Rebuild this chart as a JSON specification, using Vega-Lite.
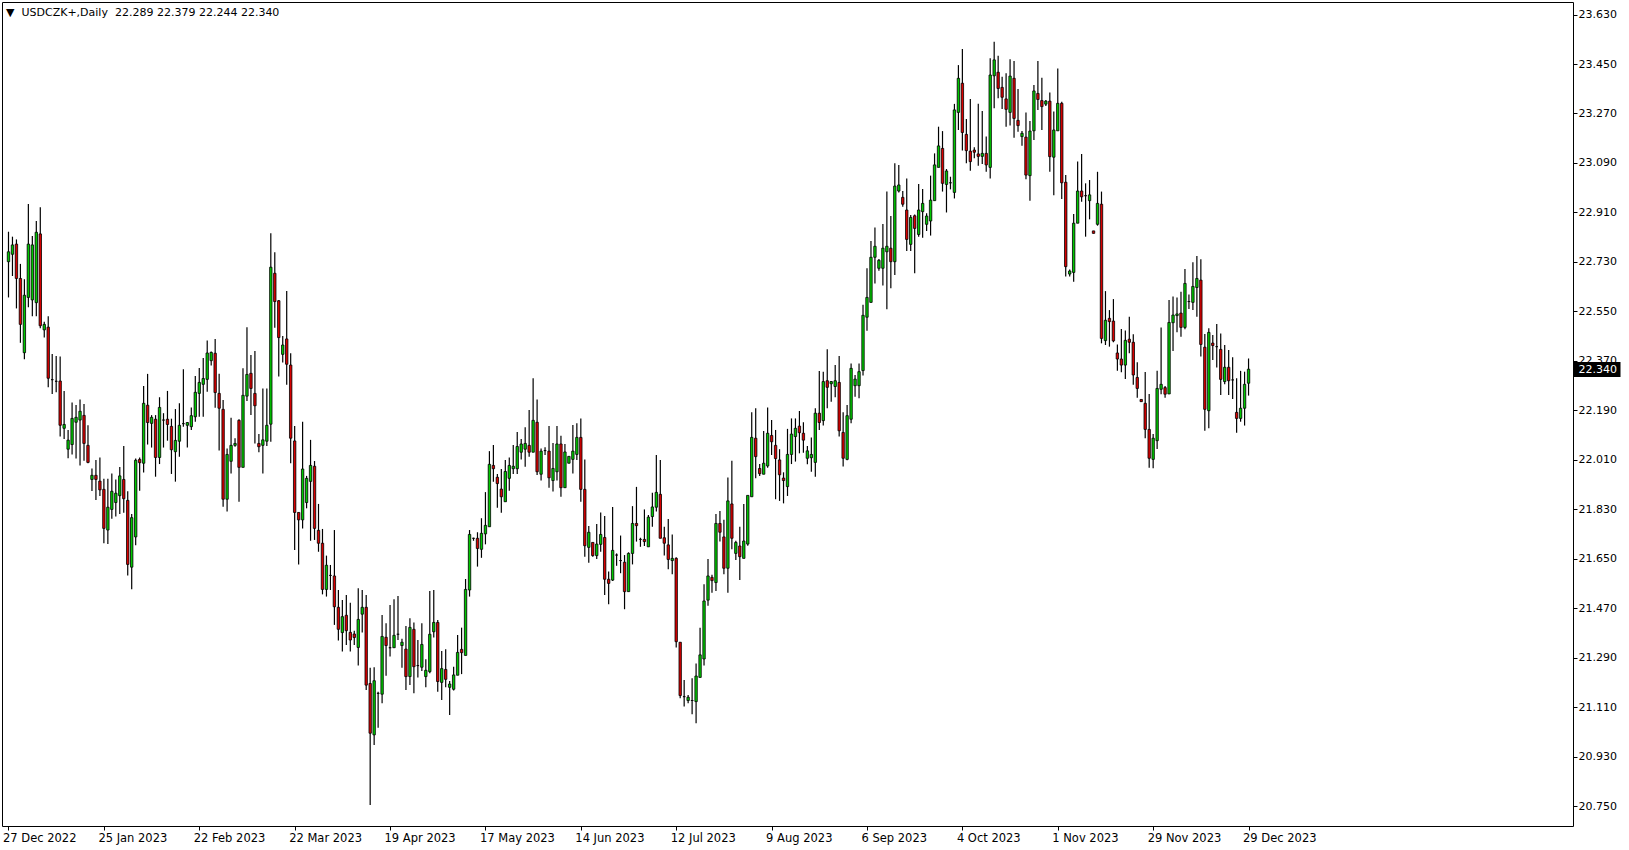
{
"$schema": "https://vega.github.io/schema/vega-lite/v6.json",
"width": 1571,
"height": 824,
"autosize": {"type": "none"},
"padding": {"left": 2, "top": 2, "right": 56, "bottom": 24},
"background": "#ffffff",
"config": {"view": {"stroke": "#000000", "strokeWidth": 1}, "font": "DejaVu Sans", "axis": {"labelFont": "DejaVu Sans", "labelFontSize": 11, "labelColor": "#000000", "tickColor": "#000000", "grid": false, "domain": false}},
"title": {"text": "▼\u00a0\u00a0USDCZK+,Daily\u00a0\u00a022.289 22.379 22.244 22.340", "anchor": "start", "frame": "group", "orient": "top", "offset": -10, "baseline": "middle", "dx": 4, "dy": 12, "fontSize": 11, "fontWeight": "normal", "font": "DejaVu Sans", "color": "#000000"},
"datasets": {
"last": [{"p": 22.34}],
"ohlc": [
{"i":0,"o":22.731,"h":22.840,"l":22.601,"c":22.767},
{"i":1,"o":22.758,"h":22.822,"l":22.679,"c":22.792},
{"i":2,"o":22.795,"h":22.812,"l":22.561,"c":22.670},
{"i":3,"o":22.670,"h":22.723,"l":22.436,"c":22.503},
{"i":4,"o":22.400,"h":22.667,"l":22.376,"c":22.609},
{"i":5,"o":22.601,"h":22.941,"l":22.565,"c":22.795},
{"i":6,"o":22.592,"h":22.824,"l":22.533,"c":22.792},
{"i":7,"o":22.582,"h":22.879,"l":22.533,"c":22.838},
{"i":8,"o":22.832,"h":22.929,"l":22.489,"c":22.498},
{"i":9,"o":22.483,"h":22.513,"l":22.455,"c":22.503},
{"i":10,"o":22.493,"h":22.533,"l":22.274,"c":22.307},
{"i":11,"o":22.302,"h":22.395,"l":22.250,"c":22.302},
{"i":12,"o":22.296,"h":22.388,"l":22.256,"c":22.296},
{"i":13,"o":22.297,"h":22.386,"l":22.095,"c":22.136},
{"i":14,"o":22.125,"h":22.261,"l":22.086,"c":22.139},
{"i":15,"o":22.049,"h":22.119,"l":22.016,"c":22.082},
{"i":16,"o":22.066,"h":22.219,"l":22.030,"c":22.161},
{"i":17,"o":22.147,"h":22.210,"l":22.015,"c":22.165},
{"i":18,"o":22.155,"h":22.230,"l":21.990,"c":22.187},
{"i":19,"o":22.172,"h":22.213,"l":22.007,"c":22.070},
{"i":20,"o":22.063,"h":22.136,"l":21.998,"c":22.001},
{"i":21,"o":21.939,"h":21.979,"l":21.897,"c":21.954},
{"i":22,"o":21.954,"h":22.010,"l":21.864,"c":21.939},
{"i":23,"o":21.933,"h":22.019,"l":21.879,"c":21.901},
{"i":24,"o":21.903,"h":21.942,"l":21.707,"c":21.761},
{"i":25,"o":21.755,"h":21.942,"l":21.704,"c":21.838},
{"i":26,"o":21.830,"h":21.961,"l":21.796,"c":21.896},
{"i":27,"o":21.855,"h":21.939,"l":21.804,"c":21.889},
{"i":28,"o":21.880,"h":21.984,"l":21.813,"c":21.952},
{"i":29,"o":21.939,"h":22.061,"l":21.818,"c":21.869},
{"i":30,"o":21.863,"h":21.896,"l":21.590,"c":21.630},
{"i":31,"o":21.620,"h":21.813,"l":21.540,"c":21.800},
{"i":32,"o":21.730,"h":22.015,"l":21.700,"c":22.009},
{"i":33,"o":22.012,"h":22.019,"l":21.898,"c":22.000},
{"i":34,"o":21.998,"h":22.279,"l":21.964,"c":22.216},
{"i":35,"o":22.209,"h":22.323,"l":22.066,"c":22.146},
{"i":36,"o":22.143,"h":22.173,"l":22.055,"c":22.165},
{"i":37,"o":22.158,"h":22.173,"l":21.949,"c":22.019},
{"i":38,"o":22.019,"h":22.238,"l":21.995,"c":22.201},
{"i":39,"o":22.155,"h":22.180,"l":22.055,"c":22.155},
{"i":40,"o":22.158,"h":22.261,"l":22.080,"c":22.139},
{"i":41,"o":22.132,"h":22.160,"l":21.959,"c":22.047},
{"i":42,"o":22.040,"h":22.195,"l":21.931,"c":22.081},
{"i":43,"o":22.078,"h":22.216,"l":22.022,"c":22.136},
{"i":44,"o":22.142,"h":22.340,"l":22.131,"c":22.142},
{"i":45,"o":22.136,"h":22.148,"l":22.055,"c":22.146},
{"i":46,"o":22.131,"h":22.201,"l":22.119,"c":22.171},
{"i":47,"o":22.167,"h":22.315,"l":22.149,"c":22.256},
{"i":48,"o":22.252,"h":22.344,"l":22.167,"c":22.292},
{"i":49,"o":22.285,"h":22.381,"l":22.167,"c":22.306},
{"i":50,"o":22.303,"h":22.444,"l":22.258,"c":22.399},
{"i":51,"o":22.371,"h":22.404,"l":22.353,"c":22.401},
{"i":52,"o":22.398,"h":22.450,"l":22.200,"c":22.255},
{"i":53,"o":22.252,"h":22.323,"l":22.044,"c":22.198},
{"i":54,"o":22.194,"h":22.228,"l":21.840,"c":21.867},
{"i":55,"o":21.867,"h":22.052,"l":21.822,"c":22.030},
{"i":56,"o":22.005,"h":22.163,"l":21.961,"c":22.063},
{"i":57,"o":22.063,"h":22.089,"l":22.058,"c":22.070},
{"i":58,"o":22.154,"h":22.158,"l":21.858,"c":21.983},
{"i":59,"o":21.983,"h":22.343,"l":21.983,"c":22.245},
{"i":60,"o":22.242,"h":22.493,"l":22.224,"c":22.321},
{"i":61,"o":22.325,"h":22.392,"l":22.173,"c":22.270},
{"i":62,"o":22.252,"h":22.406,"l":22.070,"c":22.207},
{"i":63,"o":22.070,"h":22.104,"l":22.038,"c":22.058},
{"i":64,"o":22.063,"h":22.270,"l":21.961,"c":22.083},
{"i":65,"o":22.078,"h":22.270,"l":22.061,"c":22.136},
{"i":66,"o":22.140,"h":22.834,"l":22.076,"c":22.711},
{"i":67,"o":22.689,"h":22.765,"l":22.491,"c":22.586},
{"i":68,"o":22.589,"h":22.592,"l":22.313,"c":22.455},
{"i":69,"o":22.394,"h":22.461,"l":22.364,"c":22.428},
{"i":70,"o":22.450,"h":22.624,"l":22.283,"c":22.358},
{"i":71,"o":22.355,"h":22.398,"l":21.998,"c":22.089},
{"i":72,"o":22.079,"h":22.133,"l":21.682,"c":21.819},
{"i":73,"o":21.819,"h":21.819,"l":21.630,"c":21.792},
{"i":74,"o":21.792,"h":22.149,"l":21.761,"c":21.977},
{"i":75,"o":21.855,"h":21.952,"l":21.834,"c":21.943},
{"i":76,"o":21.932,"h":22.083,"l":21.716,"c":21.990},
{"i":77,"o":21.987,"h":22.006,"l":21.719,"c":21.761},
{"i":78,"o":21.754,"h":21.850,"l":21.676,"c":21.707},
{"i":79,"o":21.707,"h":21.759,"l":21.521,"c":21.539},
{"i":80,"o":21.539,"h":21.662,"l":21.513,"c":21.627},
{"i":81,"o":21.590,"h":21.628,"l":21.537,"c":21.590},
{"i":82,"o":21.588,"h":21.755,"l":21.410,"c":21.476},
{"i":83,"o":21.474,"h":21.537,"l":21.353,"c":21.394},
{"i":84,"o":21.382,"h":21.501,"l":21.313,"c":21.440},
{"i":85,"o":21.445,"h":21.519,"l":21.337,"c":21.389},
{"i":86,"o":21.383,"h":21.491,"l":21.313,"c":21.355},
{"i":87,"o":21.377,"h":21.389,"l":21.337,"c":21.364},
{"i":88,"o":21.328,"h":21.543,"l":21.262,"c":21.430},
{"i":89,"o":21.449,"h":21.537,"l":21.382,"c":21.474},
{"i":90,"o":21.474,"h":21.519,"l":21.173,"c":21.191},
{"i":91,"o":21.197,"h":21.254,"l":20.755,"c":21.016},
{"i":92,"o":21.010,"h":21.256,"l":20.973,"c":21.207},
{"i":93,"o":21.161,"h":21.167,"l":21.036,"c":21.161},
{"i":94,"o":21.158,"h":21.446,"l":21.125,"c":21.368},
{"i":95,"o":21.365,"h":21.416,"l":21.225,"c":21.335},
{"i":96,"o":21.327,"h":21.482,"l":21.295,"c":21.327},
{"i":97,"o":21.327,"h":21.503,"l":21.327,"c":21.372},
{"i":98,"o":21.376,"h":21.515,"l":21.355,"c":21.376},
{"i":99,"o":21.335,"h":21.360,"l":21.254,"c":21.347},
{"i":100,"o":21.322,"h":21.406,"l":21.173,"c":21.222},
{"i":101,"o":21.222,"h":21.434,"l":21.191,"c":21.401},
{"i":102,"o":21.394,"h":21.419,"l":21.161,"c":21.258},
{"i":103,"o":21.262,"h":21.355,"l":21.219,"c":21.262},
{"i":104,"o":21.256,"h":21.416,"l":21.242,"c":21.339},
{"i":105,"o":21.222,"h":21.285,"l":21.183,"c":21.245},
{"i":106,"o":21.240,"h":21.533,"l":21.234,"c":21.376},
{"i":107,"o":21.385,"h":21.537,"l":21.364,"c":21.419},
{"i":108,"o":21.419,"h":21.428,"l":21.167,"c":21.204},
{"i":109,"o":21.201,"h":21.315,"l":21.137,"c":21.251},
{"i":110,"o":21.248,"h":21.321,"l":21.183,"c":21.212},
{"i":111,"o":21.183,"h":21.206,"l":21.082,"c":21.195},
{"i":112,"o":21.176,"h":21.258,"l":21.171,"c":21.228},
{"i":113,"o":21.227,"h":21.373,"l":21.227,"c":21.310},
{"i":114,"o":21.321,"h":21.400,"l":21.231,"c":21.309},
{"i":115,"o":21.299,"h":21.577,"l":21.299,"c":21.539},
{"i":116,"o":21.537,"h":21.755,"l":21.513,"c":21.739},
{"i":117,"o":21.725,"h":21.727,"l":21.716,"c":21.725},
{"i":118,"o":21.725,"h":21.747,"l":21.622,"c":21.688},
{"i":119,"o":21.685,"h":21.798,"l":21.654,"c":21.743},
{"i":120,"o":21.741,"h":21.893,"l":21.703,"c":21.772},
{"i":121,"o":21.767,"h":22.042,"l":21.767,"c":21.994},
{"i":122,"o":21.990,"h":22.064,"l":21.931,"c":21.978},
{"i":123,"o":21.947,"h":21.959,"l":21.836,"c":21.924},
{"i":124,"o":21.904,"h":21.977,"l":21.818,"c":21.876},
{"i":125,"o":21.858,"h":22.010,"l":21.858,"c":21.968},
{"i":126,"o":21.943,"h":22.019,"l":21.898,"c":21.990},
{"i":127,"o":21.978,"h":22.064,"l":21.959,"c":21.987},
{"i":128,"o":21.978,"h":22.112,"l":21.959,"c":22.059},
{"i":129,"o":22.038,"h":22.086,"l":22.012,"c":22.068},
{"i":130,"o":22.049,"h":22.129,"l":21.985,"c":22.070},
{"i":131,"o":22.063,"h":22.192,"l":22.022,"c":22.038},
{"i":132,"o":22.038,"h":22.307,"l":22.038,"c":22.154},
{"i":133,"o":22.147,"h":22.230,"l":21.955,"c":21.967},
{"i":134,"o":21.958,"h":22.052,"l":21.935,"c":22.042},
{"i":135,"o":22.044,"h":22.056,"l":22.028,"c":22.044},
{"i":136,"o":22.042,"h":22.133,"l":21.909,"c":21.945},
{"i":137,"o":21.935,"h":22.072,"l":21.895,"c":21.979},
{"i":138,"o":21.967,"h":22.133,"l":21.935,"c":22.068},
{"i":139,"o":22.068,"h":22.098,"l":21.876,"c":21.909},
{"i":140,"o":21.909,"h":22.068,"l":21.909,"c":22.039},
{"i":141,"o":21.998,"h":22.023,"l":21.998,"c":22.023},
{"i":142,"o":22.012,"h":22.137,"l":21.961,"c":22.042},
{"i":143,"o":22.030,"h":22.143,"l":22.010,"c":22.092},
{"i":144,"o":22.092,"h":22.161,"l":21.858,"c":21.903},
{"i":145,"o":21.903,"h":22.012,"l":21.658,"c":21.698},
{"i":146,"o":21.692,"h":21.770,"l":21.636,"c":21.747},
{"i":147,"o":21.710,"h":21.710,"l":21.658,"c":21.662},
{"i":148,"o":21.662,"h":21.777,"l":21.650,"c":21.704},
{"i":149,"o":21.703,"h":21.819,"l":21.676,"c":21.739},
{"i":150,"o":21.728,"h":21.806,"l":21.519,"c":21.576},
{"i":151,"o":21.576,"h":21.604,"l":21.485,"c":21.561},
{"i":152,"o":21.573,"h":21.839,"l":21.570,"c":21.681},
{"i":153,"o":21.664,"h":21.670,"l":21.625,"c":21.664},
{"i":154,"o":21.644,"h":21.735,"l":21.598,"c":21.644},
{"i":155,"o":21.638,"h":21.664,"l":21.467,"c":21.531},
{"i":156,"o":21.531,"h":21.674,"l":21.531,"c":21.670},
{"i":157,"o":21.670,"h":21.842,"l":21.630,"c":21.779},
{"i":158,"o":21.779,"h":21.912,"l":21.713,"c":21.771},
{"i":159,"o":21.721,"h":21.727,"l":21.694,"c":21.721},
{"i":160,"o":21.721,"h":21.830,"l":21.697,"c":21.713},
{"i":161,"o":21.694,"h":21.810,"l":21.694,"c":21.802},
{"i":162,"o":21.804,"h":21.891,"l":21.767,"c":21.839},
{"i":163,"o":21.838,"h":22.028,"l":21.822,"c":21.892},
{"i":164,"o":21.885,"h":22.010,"l":21.725,"c":21.725},
{"i":165,"o":21.727,"h":21.767,"l":21.662,"c":21.707},
{"i":166,"o":21.701,"h":21.795,"l":21.612,"c":21.648},
{"i":167,"o":21.644,"h":21.739,"l":21.594,"c":21.652},
{"i":168,"o":21.652,"h":21.656,"l":21.328,"c":21.349},
{"i":169,"o":21.347,"h":21.347,"l":21.143,"c":21.153},
{"i":170,"o":21.149,"h":21.210,"l":21.113,"c":21.149},
{"i":171,"o":21.135,"h":21.155,"l":21.125,"c":21.147},
{"i":172,"o":21.135,"h":21.216,"l":21.085,"c":21.135},
{"i":173,"o":21.131,"h":21.270,"l":21.052,"c":21.224},
{"i":174,"o":21.219,"h":21.400,"l":21.219,"c":21.301},
{"i":175,"o":21.286,"h":21.558,"l":21.262,"c":21.497},
{"i":176,"o":21.500,"h":21.650,"l":21.480,"c":21.588},
{"i":177,"o":21.583,"h":21.592,"l":21.527,"c":21.571},
{"i":178,"o":21.564,"h":21.813,"l":21.533,"c":21.779},
{"i":179,"o":21.779,"h":21.824,"l":21.713,"c":21.747},
{"i":180,"o":21.730,"h":21.792,"l":21.594,"c":21.616},
{"i":181,"o":21.616,"h":21.946,"l":21.527,"c":21.861},
{"i":182,"o":21.850,"h":22.007,"l":21.685,"c":21.725},
{"i":183,"o":21.670,"h":21.716,"l":21.646,"c":21.710},
{"i":184,"o":21.697,"h":21.767,"l":21.573,"c":21.658},
{"i":185,"o":21.652,"h":21.850,"l":21.652,"c":21.715},
{"i":186,"o":21.704,"h":21.881,"l":21.698,"c":21.881},
{"i":187,"o":21.876,"h":22.183,"l":21.876,"c":22.092},
{"i":188,"o":22.089,"h":22.198,"l":21.943,"c":22.022},
{"i":189,"o":21.979,"h":21.995,"l":21.952,"c":21.960},
{"i":190,"o":21.958,"h":22.115,"l":21.958,"c":21.998},
{"i":191,"o":21.988,"h":22.201,"l":21.982,"c":22.107},
{"i":192,"o":22.099,"h":22.155,"l":22.028,"c":22.076},
{"i":193,"o":22.063,"h":22.119,"l":21.867,"c":22.015},
{"i":194,"o":22.010,"h":22.049,"l":21.861,"c":21.956},
{"i":195,"o":21.944,"h":21.965,"l":21.852,"c":21.935},
{"i":196,"o":21.913,"h":22.123,"l":21.879,"c":22.030},
{"i":197,"o":22.030,"h":22.161,"l":21.995,"c":22.104},
{"i":198,"o":22.095,"h":22.161,"l":22.004,"c":22.125},
{"i":199,"o":22.133,"h":22.188,"l":22.034,"c":22.109},
{"i":200,"o":22.107,"h":22.147,"l":22.036,"c":22.082},
{"i":201,"o":22.016,"h":22.061,"l":21.994,"c":22.043},
{"i":202,"o":22.018,"h":22.092,"l":21.967,"c":22.030},
{"i":203,"o":22.001,"h":22.198,"l":21.949,"c":22.180},
{"i":204,"o":22.180,"h":22.333,"l":22.119,"c":22.146},
{"i":205,"o":22.153,"h":22.331,"l":22.135,"c":22.295},
{"i":206,"o":22.298,"h":22.413,"l":22.198,"c":22.274},
{"i":207,"o":22.287,"h":22.297,"l":22.222,"c":22.295},
{"i":208,"o":22.277,"h":22.355,"l":22.238,"c":22.298},
{"i":209,"o":22.292,"h":22.388,"l":22.095,"c":22.116},
{"i":210,"o":22.110,"h":22.183,"l":21.986,"c":22.016},
{"i":211,"o":22.012,"h":22.210,"l":22.009,"c":22.171},
{"i":212,"o":22.158,"h":22.361,"l":22.143,"c":22.343},
{"i":213,"o":22.280,"h":22.319,"l":22.240,"c":22.304},
{"i":214,"o":22.280,"h":22.361,"l":22.234,"c":22.331},
{"i":215,"o":22.335,"h":22.574,"l":22.317,"c":22.536},
{"i":216,"o":22.529,"h":22.707,"l":22.480,"c":22.601},
{"i":217,"o":22.583,"h":22.806,"l":22.583,"c":22.747},
{"i":218,"o":22.747,"h":22.855,"l":22.652,"c":22.787},
{"i":219,"o":22.707,"h":22.741,"l":22.698,"c":22.736},
{"i":220,"o":22.707,"h":22.868,"l":22.644,"c":22.780},
{"i":221,"o":22.767,"h":22.986,"l":22.558,"c":22.787},
{"i":222,"o":22.780,"h":22.897,"l":22.634,"c":22.731},
{"i":223,"o":22.731,"h":23.089,"l":22.683,"c":23.006},
{"i":224,"o":22.988,"h":23.083,"l":22.983,"c":23.010},
{"i":225,"o":22.965,"h":22.988,"l":22.931,"c":22.940},
{"i":226,"o":22.919,"h":23.034,"l":22.770,"c":22.812},
{"i":227,"o":22.794,"h":22.901,"l":22.770,"c":22.892},
{"i":228,"o":22.898,"h":22.903,"l":22.689,"c":22.852},
{"i":229,"o":22.830,"h":23.014,"l":22.822,"c":22.919},
{"i":230,"o":22.913,"h":22.995,"l":22.818,"c":22.943},
{"i":231,"o":22.867,"h":22.907,"l":22.843,"c":22.897},
{"i":232,"o":22.879,"h":23.044,"l":22.826,"c":22.955},
{"i":233,"o":22.953,"h":23.125,"l":22.953,"c":23.083},
{"i":234,"o":23.074,"h":23.222,"l":23.074,"c":23.152},
{"i":235,"o":23.143,"h":23.206,"l":22.986,"c":23.016},
{"i":236,"o":23.012,"h":23.068,"l":22.910,"c":23.061},
{"i":237,"o":23.018,"h":23.040,"l":22.994,"c":23.018},
{"i":238,"o":22.983,"h":23.305,"l":22.961,"c":23.283},
{"i":239,"o":23.274,"h":23.446,"l":23.210,"c":23.398},
{"i":240,"o":23.380,"h":23.505,"l":23.135,"c":23.201},
{"i":241,"o":23.194,"h":23.250,"l":23.089,"c":23.135},
{"i":242,"o":23.133,"h":23.323,"l":23.062,"c":23.095},
{"i":243,"o":23.137,"h":23.147,"l":23.107,"c":23.129},
{"i":244,"o":23.123,"h":23.305,"l":23.080,"c":23.114},
{"i":245,"o":23.114,"h":23.279,"l":23.086,"c":23.125},
{"i":246,"o":23.125,"h":23.186,"l":23.058,"c":23.083},
{"i":247,"o":23.074,"h":23.471,"l":23.034,"c":23.410},
{"i":248,"o":23.407,"h":23.531,"l":23.289,"c":23.465},
{"i":249,"o":23.420,"h":23.480,"l":23.325,"c":23.361},
{"i":250,"o":23.365,"h":23.404,"l":23.286,"c":23.329},
{"i":251,"o":23.323,"h":23.416,"l":23.222,"c":23.285},
{"i":252,"o":23.274,"h":23.467,"l":23.226,"c":23.406},
{"i":253,"o":23.398,"h":23.461,"l":23.182,"c":23.252},
{"i":254,"o":23.245,"h":23.359,"l":23.204,"c":23.226},
{"i":255,"o":23.186,"h":23.206,"l":23.153,"c":23.198},
{"i":256,"o":23.184,"h":23.274,"l":23.031,"c":23.046},
{"i":257,"o":23.044,"h":23.243,"l":22.953,"c":23.206},
{"i":258,"o":23.207,"h":23.374,"l":23.174,"c":23.352},
{"i":259,"o":23.343,"h":23.461,"l":23.283,"c":23.321},
{"i":260,"o":23.317,"h":23.400,"l":23.210,"c":23.295},
{"i":261,"o":23.304,"h":23.319,"l":23.297,"c":23.315},
{"i":262,"o":23.315,"h":23.346,"l":23.058,"c":23.113},
{"i":263,"o":23.111,"h":23.277,"l":22.973,"c":23.210},
{"i":264,"o":23.207,"h":23.434,"l":23.207,"c":23.307},
{"i":265,"o":23.307,"h":23.313,"l":22.959,"c":23.018},
{"i":266,"o":23.020,"h":23.046,"l":22.677,"c":22.713},
{"i":267,"o":22.686,"h":22.703,"l":22.677,"c":22.697},
{"i":268,"o":22.692,"h":22.904,"l":22.658,"c":22.871},
{"i":269,"o":22.871,"h":23.095,"l":22.871,"c":22.988},
{"i":270,"o":22.988,"h":23.123,"l":22.949,"c":22.967},
{"i":271,"o":22.971,"h":23.016,"l":22.822,"c":22.971},
{"i":272,"o":22.953,"h":23.028,"l":22.885,"c":22.974},
{"i":273,"o":22.843,"h":22.843,"l":22.834,"c":22.834},
{"i":274,"o":22.867,"h":23.058,"l":22.862,"c":22.943},
{"i":275,"o":22.940,"h":22.986,"l":22.434,"c":22.452},
{"i":276,"o":22.444,"h":22.624,"l":22.428,"c":22.518},
{"i":277,"o":22.525,"h":22.555,"l":22.422,"c":22.513},
{"i":278,"o":22.515,"h":22.595,"l":22.438,"c":22.443},
{"i":279,"o":22.399,"h":22.430,"l":22.334,"c":22.377},
{"i":280,"o":22.377,"h":22.486,"l":22.329,"c":22.355},
{"i":281,"o":22.355,"h":22.481,"l":22.304,"c":22.445},
{"i":282,"o":22.449,"h":22.531,"l":22.398,"c":22.438},
{"i":283,"o":22.438,"h":22.467,"l":22.283,"c":22.319},
{"i":284,"o":22.310,"h":22.365,"l":22.236,"c":22.270},
{"i":285,"o":22.230,"h":22.230,"l":22.222,"c":22.222},
{"i":286,"o":22.216,"h":22.330,"l":22.089,"c":22.121},
{"i":287,"o":22.121,"h":22.250,"l":21.982,"c":22.016},
{"i":288,"o":22.012,"h":22.104,"l":21.980,"c":22.089},
{"i":289,"o":22.080,"h":22.334,"l":22.050,"c":22.270},
{"i":290,"o":22.267,"h":22.492,"l":22.249,"c":22.285},
{"i":291,"o":22.273,"h":22.279,"l":22.236,"c":22.249},
{"i":292,"o":22.250,"h":22.592,"l":22.250,"c":22.510},
{"i":293,"o":22.509,"h":22.604,"l":22.406,"c":22.537},
{"i":294,"o":22.535,"h":22.601,"l":22.474,"c":22.541},
{"i":295,"o":22.544,"h":22.622,"l":22.458,"c":22.492},
{"i":296,"o":22.492,"h":22.704,"l":22.485,"c":22.652},
{"i":297,"o":22.586,"h":22.612,"l":22.559,"c":22.586},
{"i":298,"o":22.583,"h":22.729,"l":22.555,"c":22.641},
{"i":299,"o":22.637,"h":22.752,"l":22.531,"c":22.670},
{"i":300,"o":22.664,"h":22.740,"l":22.386,"c":22.430},
{"i":301,"o":22.420,"h":22.468,"l":22.116,"c":22.194},
{"i":302,"o":22.189,"h":22.489,"l":22.125,"c":22.474},
{"i":303,"o":22.435,"h":22.464,"l":22.373,"c":22.426},
{"i":304,"o":22.422,"h":22.504,"l":22.346,"c":22.422},
{"i":305,"o":22.412,"h":22.470,"l":22.246,"c":22.303},
{"i":306,"o":22.295,"h":22.428,"l":22.285,"c":22.347},
{"i":307,"o":22.347,"h":22.410,"l":22.246,"c":22.298},
{"i":308,"o":22.301,"h":22.383,"l":22.232,"c":22.301},
{"i":309,"o":22.183,"h":22.307,"l":22.109,"c":22.161},
{"i":310,"o":22.161,"h":22.334,"l":22.149,"c":22.198},
{"i":311,"o":22.198,"h":22.331,"l":22.135,"c":22.285},
{"i":312,"o":22.289,"h":22.379,"l":22.244,"c":22.340}
]
},
"resolve": {"scale": {"y": "independent"}},
"layer": [
{
"data": {"name": "ohlc"},
"mark": {"type": "rule", "color": "#000000", "strokeWidth": 1.2},
"encoding": {
"x": {"field": "i", "type": "quantitative", "scale": {"domain": [-0.375, 392.375], "nice": false, "zero": false},
 "axis": {"orient": "bottom", "title": null, "values": [0,24,48,72,96,120,144,168,192,216,240,264,288,312],
  "labelExpr": "datum.value == 0 ? '27 Dec 2022' : datum.value == 24 ? '25 Jan 2023' : datum.value == 48 ? '22 Feb 2023' : datum.value == 72 ? '22 Mar 2023' : datum.value == 96 ? '19 Apr 2023' : datum.value == 120 ? '17 May 2023' : datum.value == 144 ? '14 Jun 2023' : datum.value == 168 ? '12 Jul 2023' : datum.value == 192 ? '9 Aug 2023' : datum.value == 216 ? '6 Sep 2023' : datum.value == 240 ? '4 Oct 2023' : datum.value == 264 ? '1 Nov 2023' : datum.value == 288 ? '29 Nov 2023' : '29 Dec 2023'",
  "ticks": true, "tickSize": 4, "tickColor": "#000000", "labelPadding": 2, "labelAlign": "left", "labelOffset": -6, "labelBaseline": "top", "labelFlush": false, "labelOverlap": false, "labelColor": "#000000", "labelFontSize": 11.5}},
"y": {"field": "l", "type": "quantitative", "scale": {"domain": [20.6786, 23.6755], "nice": false, "zero": false}, "axis": null},
"y2": {"field": "h"}
}
},
{
"data": {"name": "ohlc"},
"mark": {"type": "bar", "size": 2.4, "stroke": "#000000", "strokeWidth": 0.8},
"encoding": {
"x": {"field": "i", "type": "quantitative", "scale": {"domain": [-0.375, 392.375], "nice": false, "zero": false},
 "axis": {"orient": "bottom", "title": null, "values": [0,24,48,72,96,120,144,168,192,216,240,264,288,312],
  "labelExpr": "datum.value == 0 ? '27 Dec 2022' : datum.value == 24 ? '25 Jan 2023' : datum.value == 48 ? '22 Feb 2023' : datum.value == 72 ? '22 Mar 2023' : datum.value == 96 ? '19 Apr 2023' : datum.value == 120 ? '17 May 2023' : datum.value == 144 ? '14 Jun 2023' : datum.value == 168 ? '12 Jul 2023' : datum.value == 192 ? '9 Aug 2023' : datum.value == 216 ? '6 Sep 2023' : datum.value == 240 ? '4 Oct 2023' : datum.value == 264 ? '1 Nov 2023' : datum.value == 288 ? '29 Nov 2023' : '29 Dec 2023'",
  "ticks": true, "tickSize": 4, "tickColor": "#000000", "labelPadding": 2, "labelAlign": "left", "labelOffset": -6, "labelBaseline": "top", "labelFlush": false, "labelOverlap": false, "labelColor": "#000000", "labelFontSize": 11.5}},
"y": {"field": "o", "type": "quantitative", "scale": {"domain": [20.6786, 23.6755], "nice": false, "zero": false},
 "axis": {"orient": "right", "title": null, "values": [20.75,20.93,21.11,21.29,21.47,21.65,21.83,22.01,22.19,22.37,22.55,22.73,22.91,23.09,23.27,23.45,23.63],
  "format": ".3f", "tickSize": 4, "labelPadding": 1, "labelFlush": false, "labelOverlap": false}},
"y2": {"field": "c"},
"fill": {"condition": [{"test": "datum.c > datum.o", "value": "#00c800"}, {"test": "datum.c < datum.o", "value": "#d80000"}], "value": "#000000"}
}
},
{
"data": {"name": "last"},
"mark": {"type": "point", "opacity": 0},
"encoding": {
"y": {"field": "p", "type": "quantitative", "scale": {"domain": [20.6786, 23.6755], "nice": false, "zero": false},
 "axis": {"orient": "right", "title": null, "values": [22.34], "format": ".3f", "tickSize": 47, "tickWidth": 15, "tickColor": "#000000", "labelColor": "#ffffff", "labelPadding": -42, "labelFlush": false, "labelOverlap": false}}
}
}
]
}
